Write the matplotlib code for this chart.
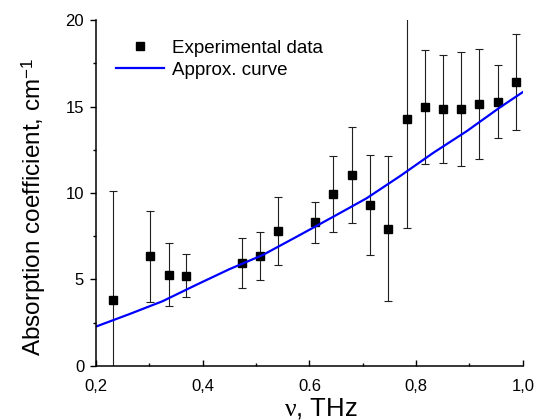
import numpy as np
import matplotlib
matplotlib.use('Agg')
import matplotlib.pyplot as plt
from matplotlib.ticker import MultipleLocator

plt.rcParams['font.family'] = ['Liberation Sans', 'DejaVu Sans']
plt.rcParams['mathtext.fontset'] = 'custom'
plt.rcParams['mathtext.rm'] = 'Liberation Sans'
plt.rcParams['mathtext.it'] = 'Liberation Serif'

# measured absorption with error bars
nu_exp = [0.232, 0.301, 0.336, 0.369, 0.473, 0.507, 0.541, 0.610, 0.644, 0.679,
          0.713, 0.747, 0.782, 0.816, 0.850, 0.885, 0.918, 0.953, 0.987]
alpha_exp = [3.80, 6.34, 5.28, 5.22, 5.93, 6.34, 7.80, 8.30, 9.92, 11.04,
             9.31, 7.94, 14.30, 14.99, 14.86, 14.86, 15.16, 15.28, 16.42]
alpha_err = [6.30, 2.64, 1.80, 1.25, 1.45, 1.38, 1.95, 1.18, 2.20, 2.80,
             2.90, 4.20, 6.35, 3.30, 3.10, 3.30, 3.20, 2.10, 2.80]

# approximating curve
nu_fit = [0.200, 0.2625, 0.325, 0.387, 0.450, 0.5125, 0.575, 0.645, 0.707,
          0.770, 0.832, 0.895, 0.957, 1.000]
alpha_fit = [2.27, 2.99, 3.74, 4.67, 5.59, 6.41, 7.45, 8.63, 9.69,
             10.98, 12.32, 13.58, 14.95, 15.84]

xticks = [0.2, 0.4, 0.6, 0.8, 1.0]
xtick_labels = ['0,2', '0,4', '0.6', '0,8', '1,0']
yticks = [0, 5, 10, 15, 20]

fig = plt.figure(figsize=(5.39, 4.20), dpi=100)
ax = fig.add_axes([0.178, 0.129, 0.792, 0.823])

ax.errorbar(nu_exp, alpha_exp, yerr=alpha_err, fmt='none', ecolor='#202020',
            elinewidth=0.8, capsize=2.6, capthick=0.8)
ax.plot(nu_exp, alpha_exp, 's', color='black', markersize=5.2,
        label='Experimental data')
ax.plot(nu_fit, alpha_fit, '-', color='#0000ff', linewidth=1.6,
        label='Approx. curve')

ax.set_xlim(0.2, 1.0)
ax.set_ylim(0, 20)
ax.set_xticks(xticks)
ax.set_xticklabels(xtick_labels)
ax.set_yticks(yticks)
ax.xaxis.set_minor_locator(MultipleLocator(0.1))
ax.yaxis.set_minor_locator(MultipleLocator(2.5))

for side in ['top', 'right']:
    ax.spines[side].set_visible(False)
for side in ['left', 'bottom']:
    ax.spines[side].set_linewidth(1.1)

ax.tick_params(axis='x', which='both', direction='in', labelsize=12, pad=9.5)
ax.tick_params(axis='y', which='both', direction='out', labelsize=12, pad=4)
ax.tick_params(which='major', length=4.5, width=1.0)
ax.tick_params(which='minor', length=2.5, width=1.0)

ax.set_xlabel(r'$\nu$, THz', fontsize=18.5)
ax.set_ylabel(r'Absorption coefficient, cm$^{-1}$', fontsize=17.5)
ax.xaxis.set_label_coords(0.527, -0.088)
ax.yaxis.set_label_coords(-0.113, 0.46)

ax.legend(loc='upper left', bbox_to_anchor=(0.024, 0.97), frameon=False,
          fontsize=13.5, numpoints=1, handlelength=2.6, handletextpad=0.4,
          labelspacing=0.25, borderpad=0)

fig.savefig('out.png', dpi=100)
